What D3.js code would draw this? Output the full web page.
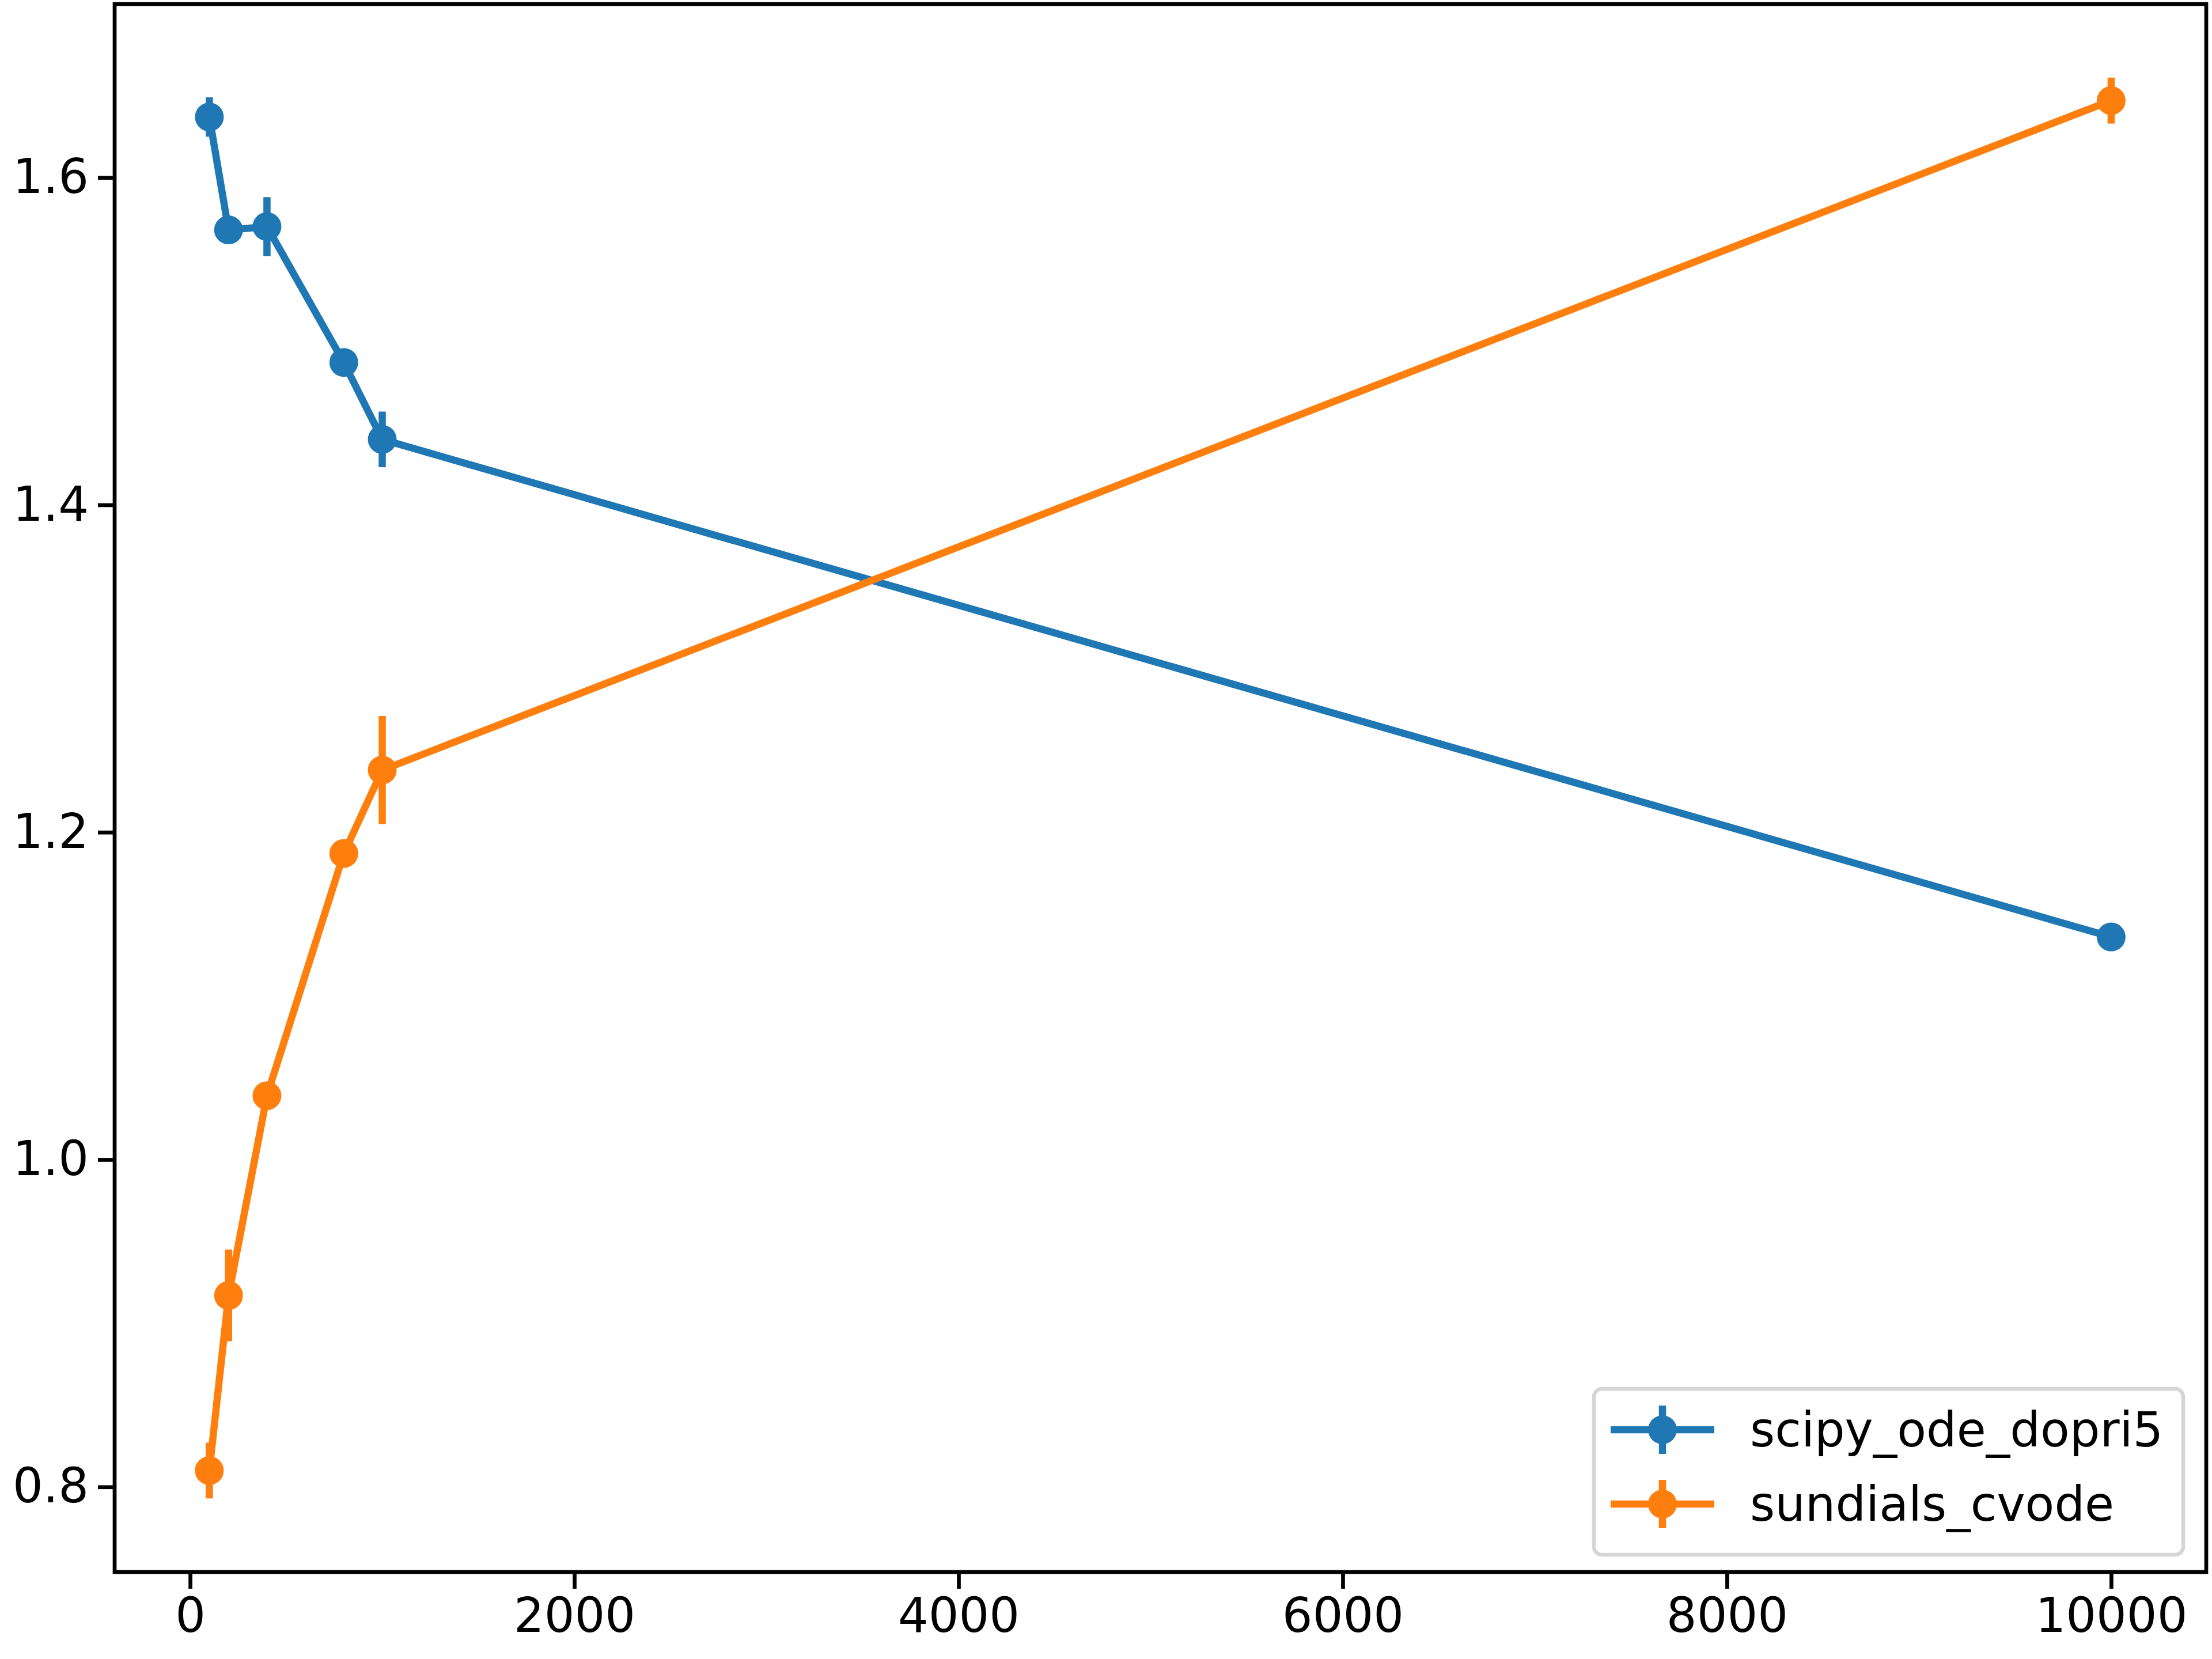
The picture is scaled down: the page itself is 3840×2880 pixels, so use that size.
<!DOCTYPE html>
<html><head><meta charset="utf-8">
<script src="https://cdn.jsdelivr.net/npm/d3@7"></script>
<style>body{margin:0;background:#fff}</style></head>
<body><svg id="c" width="3840" height="2880"></svg>
<script>
const xs = [100, 200, 400, 800, 1000, 10000];
const seriesNames = ["scipy_ode_dopri5", "sundials_cvode"];
const dopri5 = [1.637, 1.568, 1.570, 1.487, 1.440, 1.136];
const dopri5Err = [0.012, 0.004, 0.018, 0.005, 0.017, 0.005];
const cvode = [0.810, 0.917, 1.039, 1.187, 1.238, 1.647];
const cvodeErr = [0.017, 0.028, 0.006, 0.005, 0.033, 0.014];
const xTicks = [0, 2000, 4000, 6000, 8000, 10000];
const yTicks = [0.8, 1.0, 1.2, 1.4, 1.6];
const colors = ["#1f77b4", "#ff7f0e"];

const L=199, R=3830, T=7, B=2729;
const svg = d3.select("#c");
const x = d3.scaleLinear().domain([-393, 10495]).range([L, R]);
const y = d3.scaleLinear().domain([0.748, 1.706]).range([B, T]);
const font = "DejaVu Sans";

const series = [[dopri5, dopri5Err], [cvode, cvodeErr]];
series.forEach(([v, e], i) => {
  const g = svg.append("g");
  g.append("path").attr("d", d3.line().x((d,j)=>x(xs[j])).y(d=>y(d))(v))
    .attr("fill","none").attr("stroke",colors[i]).attr("stroke-width",12.5).attr("stroke-linejoin","round");
  g.selectAll("line.e").data(v).enter().append("line")
    .attr("x1",(d,j)=>x(xs[j])).attr("x2",(d,j)=>x(xs[j]))
    .attr("y1",(d,j)=>y(d-e[j])).attr("y2",(d,j)=>y(d+e[j]))
    .attr("stroke",colors[i]).attr("stroke-width",12.5);
  g.selectAll("circle").data(v).enter().append("circle")
    .attr("cx",(d,j)=>x(xs[j])).attr("cy",d=>y(d)).attr("r",25).attr("fill",colors[i]);
});

const xa = svg.append("g").attr("transform",`translate(0,${B})`)
  .call(d3.axisBottom(x).tickValues(xTicks).tickFormat(d3.format("d")).tickSize(29).tickPadding(16));
const ya = svg.append("g").attr("transform",`translate(${L},0)`)
  .call(d3.axisLeft(y).tickValues(yTicks).tickFormat(d3.format(".1f")).tickSize(29).tickPadding(16));
[xa, ya].forEach(a => {
  a.select(".domain").remove();
  a.selectAll("line").attr("stroke","#000").attr("stroke-width",6.7);
  a.selectAll("text").attr("font-family",font).attr("font-size",83).attr("fill","#000");
});
svg.append("rect").attr("x",L).attr("y",T).attr("width",R-L).attr("height",B-T)
  .attr("fill","none").attr("stroke","#000").attr("stroke-width",6.7);

const lg = svg.append("g");
lg.append("rect").attr("x",2767).attr("y",2411).attr("width",1023).attr("height",288).attr("rx",14)
  .attr("fill","#fff").attr("fill-opacity",0.8).attr("stroke","#d6d6d6").attr("stroke-width",6.7);
seriesNames.forEach((n,i) => {
  const yy = 2482 + i*129;
  lg.append("line").attr("x1",2796).attr("x2",2976).attr("y1",yy).attr("y2",yy).attr("stroke",colors[i]).attr("stroke-width",12.5);
  lg.append("line").attr("x1",2886).attr("x2",2886).attr("y1",yy-42).attr("y2",yy+42).attr("stroke",colors[i]).attr("stroke-width",12.5);
  lg.append("circle").attr("cx",2886).attr("cy",yy).attr("r",25).attr("fill",colors[i]);
  lg.append("text").attr("x",3038).attr("y",yy+29).attr("font-family",font).attr("font-size",83).text(n);
});
</script></body></html>
